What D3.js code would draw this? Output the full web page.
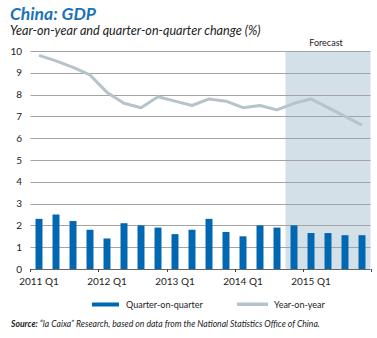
<!DOCTYPE html>
<html><head><meta charset="utf-8">
<script src="https://cdn.jsdelivr.net/npm/d3@7"></script>
<style>
body{margin:0;background:#fff;}
svg{display:block;font-family:Lato, "Open Sans", sans-serif;}
</style></head>
<body><svg id="chart" width="377" height="338"></svg>
<script>
const quarters = ["2011 Q1","2011 Q2","2011 Q3","2011 Q4","2012 Q1","2012 Q2","2012 Q3","2012 Q4",
  "2013 Q1","2013 Q2","2013 Q3","2013 Q4","2014 Q1","2014 Q2","2014 Q3","2014 Q4",
  "2015 Q1","2015 Q2","2015 Q3","2015 Q4"];
const qoq = [2.3,2.5,2.2,1.8,1.4,2.1,2.0,1.9,1.6,1.8,2.3,1.7,1.5,2.0,1.9,2.0,1.65,1.65,1.55,1.55];
const yoy = [9.8,9.55,9.25,8.9,8.1,7.6,7.4,7.9,7.7,7.5,7.8,7.7,7.4,7.5,7.3,7.6,7.8,7.4,7.0,6.6];
const yTicks = [0,1,2,3,4,5,6,7,8,9,10];
const xLabels = ["2011 Q1","2012 Q1","2013 Q1","2014 Q1","2015 Q1"];
const forecastStart = "2014 Q4";

(function(){
const svg = d3.select("#chart");
const pL = 30.5, pR = 370.5, pT = 51, pB = 269;
const x = d3.scaleBand().domain(quarters).range([pL, pR]).paddingInner(0.59).paddingOuter(0.295);
const y = d3.scaleLinear().domain([0,10]).range([pB, pT]);
const step = x.step(), bw = x.bandwidth();
const gap = (step - bw) / 2;

// forecast shading
const fx0 = x(forecastStart) - gap;
svg.append("rect").attr("x", fx0).attr("y", y(10)).attr("width", pR - fx0).attr("height", y(0) - y(10))
  .attr("fill", "#d3e0e8");
svg.append("text").attr("x", (fx0 + pR)/2 - 2).attr("y", 46).attr("text-anchor","middle")
  .attr("font-size", 9).attr("fill","#222").text("Forecast");

// grid
svg.append("g").selectAll("line").data(yTicks.filter(d=>d>0)).join("line")
  .attr("x1", pL).attr("x2", pR).attr("y1", d=>Math.round(y(d))+0.5).attr("y2", d=>Math.round(y(d))+0.5)
  .attr("stroke", "#a3a3a3").attr("stroke-width", 1);

// y labels
svg.append("g").selectAll("text").data(yTicks).join("text")
  .attr("x", 22).attr("y", d=>y(d)+3.5).attr("text-anchor","end").attr("font-size",10).attr("fill","#222")
  .text(d=>d);

// bars
svg.append("g").selectAll("rect").data(quarters).join("rect")
  .attr("x", d=>x(d)).attr("width", bw)
  .attr("y", (d,i)=>y(qoq[i])).attr("height", (d,i)=>y(0)-y(qoq[i]))
  .attr("fill", "#0068b3");

// line
const line = d3.line().x(d=>x(d[0])+bw/2).y(d=>y(d[1]));
svg.append("path").datum(quarters.map((q,i)=>[q,yoy[i]])).attr("d", line)
  .attr("fill","none").attr("stroke","#b5c3cb").attr("stroke-width",3).attr("stroke-linejoin","round");

// x axis
svg.append("line").attr("x1", pL).attr("x2", pR).attr("y1", Math.round(y(0))+0.5).attr("y2", Math.round(y(0))+0.5)
  .attr("stroke","#666").attr("stroke-width",1);
const tickPos = xLabels.map(q=>x(q)-gap).concat([pR]);
svg.append("g").selectAll("line").data(tickPos).join("line")
  .attr("x1", d=>Math.round(d)+0.5).attr("x2", d=>Math.round(d)+0.5)
  .attr("y1", y(0)).attr("y2", y(0)+3).attr("stroke","#444");
svg.append("g").selectAll("text").data(xLabels).join("text")
  .attr("x", d=>x(d)+bw/2).attr("y", 285).attr("text-anchor","middle").attr("font-size",10).attr("fill","#222")
  .text(d=>d);

// titles
svg.append("text").attr("x", 10).attr("y", 20).attr("font-size", 17.5).attr("font-weight","bold")
  .attr("font-style","italic").attr("fill","#1b72b8").text("China: GDP");
svg.append("text").attr("x", 10).attr("y", 35).attr("font-size", 12.6)
  .attr("font-style","italic").attr("fill","#222").text("Year-on-year and quarter-on-quarter change (%)");

// legend
svg.append("rect").attr("x", 92).attr("y", 302.5).attr("width", 27).attr("height", 4).attr("fill", "#0068b3");
svg.append("text").attr("x", 126).attr("y", 308).attr("font-size", 9).attr("fill","#222").text("Quarter-on-quarter");
svg.append("rect").attr("x", 237).attr("y", 302.5).attr("width", 31).attr("height", 3.5).attr("fill", "#b5c3cb");
svg.append("text").attr("x", 274).attr("y", 308).attr("font-size", 9).attr("fill","#222").text("Year-on-year");

// source
const src = svg.append("text").attr("x", 11).attr("y", 327).attr("font-size", 8.65).attr("font-style","italic").attr("fill","#222");
src.append("tspan").attr("font-weight","bold").text("Source:");
src.append("tspan").text(" \u201Cla Caixa\u201D Research, based on data from the National Statistics Office of China.");
})();
</script></body></html>
